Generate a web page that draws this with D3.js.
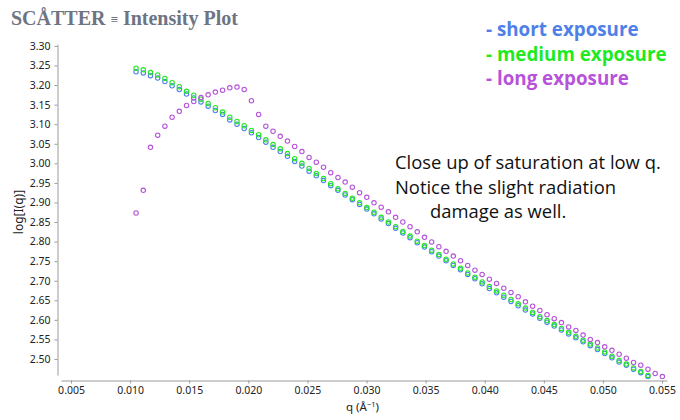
<!DOCTYPE html>
<html><head><meta charset="utf-8">
<script src="https://cdn.jsdelivr.net/npm/d3@7"></script>
<style>body{margin:0;background:#fff}</style></head>
<body><svg id="c" width="680" height="420"></svg>
<script>
const q = [0.01050,0.01111,0.01172,0.01233,0.01294,0.01355,0.01416,0.01477,0.01538,0.01599,
0.01660,0.01721,0.01782,0.01843,0.01904,0.01965,0.02026,0.02087,0.02148,0.02209,
0.02270,0.02331,0.02392,0.02453,0.02514,0.02575,0.02636,0.02697,0.02758,0.02819,
0.02880,0.02941,0.03002,0.03063,0.03124,0.03185,0.03246,0.03307,0.03368,0.03429,
0.03490,0.03551,0.03612,0.03673,0.03734,0.03795,0.03856,0.03917,0.03978,0.04039,
0.04100,0.04161,0.04222,0.04283,0.04344,0.04405,0.04466,0.04527,0.04588,0.04649,
0.04710,0.04771,0.04832,0.04893,0.04954,0.05015,0.05076,0.05137,0.05198,0.05259,
0.05320,0.05381,0.05442,0.05503];

const shortExp = [3.234,3.231,3.224,3.218,3.209,3.198,3.189,3.177,3.167,3.157,
3.146,3.135,3.125,3.111,3.100,3.089,3.078,3.066,3.054,3.041,
3.030,3.018,3.005,2.993,2.980,2.968,2.956,2.943,2.931,2.919,
2.907,2.895,2.883,2.871,2.858,2.846,2.834,2.822,2.810,2.797,
2.786,2.774,2.763,2.751,2.739,2.728,2.716,2.705,2.692,2.680,
2.669,2.658,2.647,2.636,2.625,2.615,2.604,2.594,2.584,2.574,
2.564,2.554,2.544,2.534,2.524,2.514,2.503,2.492,2.484,2.474,
2.465,2.455];

const mediumExp = [3.243,3.239,3.232,3.226,3.217,3.206,3.196,3.184,3.174,3.164,
3.153,3.142,3.131,3.118,3.107,3.096,3.084,3.073,3.060,3.048,
3.037,3.025,3.012,3.000,2.987,2.974,2.961,2.948,2.935,2.923,
2.911,2.899,2.887,2.875,2.862,2.850,2.838,2.826,2.814,2.801,
2.790,2.778,2.767,2.755,2.743,2.732,2.720,2.709,2.697,2.685,
2.674,2.663,2.652,2.641,2.630,2.619,2.608,2.598,2.588,2.578,
2.568,2.558,2.548,2.538,2.528,2.518,2.507,2.496,2.487,2.477,
2.468,2.458];

const longExp = [2.873,2.931,3.041,3.072,3.095,3.118,3.133,3.148,3.158,3.168,
3.175,3.182,3.187,3.193,3.195,3.189,3.160,3.125,3.095,3.082,
3.069,3.057,3.043,3.030,3.015,3.003,2.990,2.976,2.964,2.952,
2.939,2.925,2.913,2.899,2.888,2.876,2.862,2.850,2.838,2.825,
2.811,2.799,2.787,2.775,2.763,2.751,2.739,2.727,2.716,2.704,
2.693,2.681,2.670,2.659,2.646,2.635,2.624,2.613,2.603,2.593,
2.582,2.573,2.561,2.550,2.542,2.531,2.522,2.512,2.502,2.491,
2.484,2.474,2.463,2.455];

const xTicks = [0.005,0.010,0.015,0.020,0.025,0.030,0.035,0.040,0.045,0.050,0.055];
const yTicks = [2.50,2.55,2.60,2.65,2.70,2.75,2.80,2.85,2.90,2.95,3.00,3.05,3.10,3.15,3.20,3.25,3.30];
const seriesNames = ["- short exposure","- medium exposure","- long exposure"];
const seriesColors = ["#4f80e8","#1fea1f","#b653da"];
const titleText = "SCÅTTER";
const titleRest = "Intensity Plot";
const noteLines = ["Close up of saturation at low q.","Notice the slight radiation","damage as well."];

const svg = d3.select("#c");
const x = d3.scaleLinear().domain([0.00415, 0.05542]).range([61, 667]);
const y = d3.scaleLinear().domain([2.459, 3.305]).range([375, 44]);

// title
const t = svg.append("text").attr("x", 11).attr("y", 25)
  .attr("font-family", "Liberation Serif").attr("font-weight", "bold")
  .attr("font-size", 20).attr("fill", "#6d7482");
t.append("tspan").text(titleText + " ");
t.append("tspan").attr("font-size", 13).attr("dy", -1).text("≡");
t.append("tspan").attr("dy", 1).text(" " + titleRest);

// axes
const yAxis = svg.append("g").attr("transform", "translate(57.5,0)")
  .call(d3.axisLeft(y).tickValues(yTicks).tickFormat(d3.format(".2f")).tickSize(3).tickSizeOuter(0).tickPadding(4));
const xAxis = svg.append("g").attr("transform", "translate(0,380.5)")
  .call(d3.axisBottom(x).tickValues(xTicks).tickFormat(d3.format(".3f")).tickSize(3).tickSizeOuter(0).tickPadding(3));
[xAxis, yAxis].forEach(g => {
  g.select(".domain").attr("stroke", "#9a9a9a");
  g.selectAll(".tick line").attr("stroke", "#9a9a9a");
  g.selectAll(".tick text").attr("font-family", "Noto Sans").attr("font-size", 10.5).attr("fill", "#222");
});

// axis labels
svg.append("text").attr("transform", "translate(23,212) rotate(-90)")
  .attr("text-anchor", "middle").attr("font-family", "Noto Sans").attr("font-size", 12)
  .attr("fill", "#222").text("log[I(q)]");
const xl = svg.append("text").attr("x", 346).attr("y", 411)
  .attr("font-family", "Noto Sans").attr("font-size", 11.5).attr("fill", "#222");
xl.append("tspan").text("q (Å");
xl.append("tspan").attr("dy", -4.5).attr("font-size", 7.5).text("−1");
xl.append("tspan").attr("dy", 4.5).text(")");

// plot
svg.append("clipPath").attr("id", "clip").append("rect")
  .attr("x", 58).attr("y", 36).attr("width", 612).attr("height", 343);
const plot = svg.append("g").attr("clip-path", "url(#clip)");
[shortExp, mediumExp, longExp].forEach((vals, si) => {
  plot.append("g").selectAll("circle").data(vals).join("circle")
    .attr("cx", (d, i) => x(q[i])).attr("cy", d => y(d)).attr("r", 2.2)
    .attr("fill", "none").attr("stroke", seriesColors[si]).attr("stroke-width", 1.1);
});

// legend
seriesNames.forEach((n, i) => {
  svg.append("text").attr("x", 486).attr("y", 36 + i * 24.5)
    .attr("font-family", "Open Sans").attr("font-weight", "bold").attr("font-size", 18.8)
    .attr("fill", seriesColors[i]).text(n);
});

// annotation
const nx = [395, 395, 430], ny = [169, 193.5, 217.5];
noteLines.forEach((s, i) => {
  svg.append("text").attr("x", nx[i]).attr("y", ny[i])
    .attr("font-family", "Open Sans").attr("font-size", 18.4).attr("fill", "#111").text(s);
});
</script></body></html>
